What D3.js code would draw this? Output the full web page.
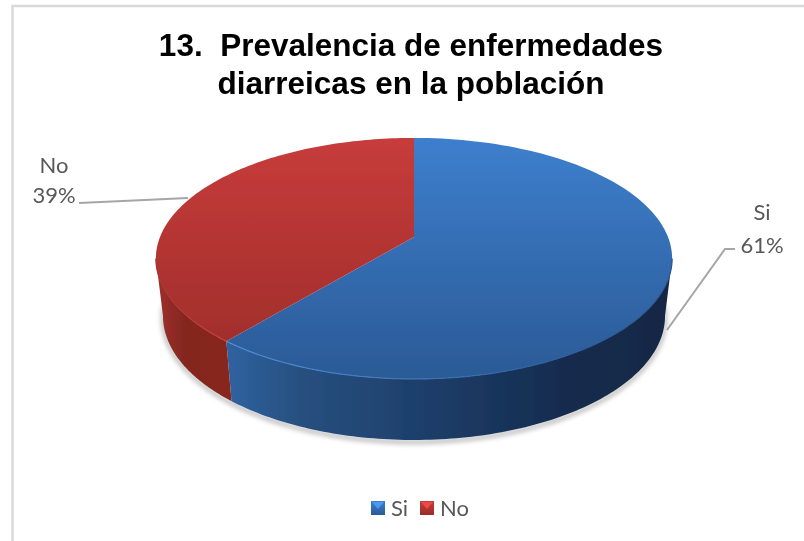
<!DOCTYPE html>
<html><head><meta charset="utf-8">
<script src="https://cdn.jsdelivr.net/npm/d3@7"></script>
<style>html,body{margin:0;padding:0;background:#fff}svg{display:block}</style>
</head><body><div id="c"></div>
<script>
const categories = ["Si", "No"];
const values = [61, 39];
const titleLines = ["13.  Prevalencia de enfermedades", "diarreicas en la población"];

const W = 804, H = 541;
const svg = d3.select("#c").append("svg").attr("width", W).attr("height", H);
const defs = svg.append("defs");

svg.append("path").attr("d",`M${W},6H12.5V${H}`).attr("fill","none").attr("stroke","#d9d9d9").attr("stroke-width",2.5);

const pie = d3.pie().sort(null).value(d => d)(values);
const k = 0.178;
const cx = 414;
const topDisc = {cy:237, R:254, B:116.7};
const botDisc = {cy:294, R:247, B:120};
const proj = (disc, a) => {
  const u = Math.sin(a), v = -Math.cos(a), den = 1 - k*v;
  return [cx + disc.R*u/den, disc.cy + disc.B*v/den];
};
const line = d3.line();
const sample = (disc, a0, a1) => d3.range(0, 121).map(i => proj(disc, a0 + (a1-a0)*i/120));

const topCols = d3.scaleOrdinal(categories, [["#3d7fcd","#2b5a96"],["#c73c3b","#9b2c29"]]);
const wallStops = {
  Si: [[228,"#2f62a0"],[300,"#26507f"],[420,"#1e3f6b"],[560,"#152c4e"],[670,"#132745"]],
  No: [[160,"#9a2f2b"],[185,"#84271f"],[232,"#87281f"]]
};
const rimStops = {
  Si: [[228,"#4f8bd3"],[420,"#3f74b8"],[560,"#2c5c99"],[672,"#285590"]],
  No: [[155,"#a83230"],[232,"#c8453f"]]
};
const xGrad = d3.scaleLinear().domain([150,680]).range([0,1]);
const hGrad = (id, stops) => {
  const w = defs.append("linearGradient").attr("id",id).attr("gradientUnits","userSpaceOnUse")
    .attr("x1",150).attr("x2",680).attr("y1",0).attr("y2",0);
  stops.forEach(s=>w.append("stop").attr("offset",xGrad(s[0])).attr("stop-color",s[1]));
};
categories.forEach(c => {
  const g = defs.append("linearGradient").attr("id","top"+c).attr("gradientUnits","userSpaceOnUse")
    .attr("x1",0).attr("x2",0).attr("y1",138).attr("y2",379);
  topCols(c).forEach((col,i)=>g.append("stop").attr("offset",i).attr("stop-color",col));
  hGrad("wall"+c, wallStops[c]);
  hGrad("rim"+c, rimStops[c]);
});
const sh = defs.append("filter").attr("id","soft").attr("x","-10%").attr("y","-10%").attr("width","120%").attr("height","120%");
sh.append("feGaussianBlur").attr("stdDeviation",2.5);
const bl = defs.append("filter").attr("id","b").attr("x","-5%").attr("y","-5%").attr("width","110%").attr("height","110%");
bl.append("feGaussianBlur").attr("stdDeviation",0.6);
const tb = defs.append("filter").attr("id","t").attr("x","-5%").attr("y","-10%").attr("width","110%").attr("height","120%");
tb.append("feGaussianBlur").attr("stdDeviation",0.4);

const aR = Math.acos(-k), aL = 2*Math.PI - aR;
const chart = svg.append("g");

chart.append("path")
  .attr("d", line(sample(botDisc, aR-0.1, aL+0.1)))
  .attr("transform","translate(0,2)")
  .attr("fill","none").attr("stroke","#777").attr("stroke-width",3).attr("opacity",0.7).attr("filter","url(#soft)");

const body = chart.append("g").attr("filter","url(#b)");
pie.forEach((p,i) => {
  const c = categories[i];
  const a0 = Math.max(p.startAngle, aR), a1 = Math.min(p.endAngle, aL);
  if (a1 > a0) {
    const pts = sample(topDisc,a0,a1).concat(sample(botDisc,a1,a0));
    body.append("path").attr("d", line(pts)+"Z").attr("fill",`url(#wall${c})`);
  }
});
pie.forEach((p,i) => {
  const c = categories[i];
  const pts = [[cx, topDisc.cy]].concat(sample(topDisc,p.startAngle,p.endAngle));
  body.append("path").attr("d", line(pts)+"Z").attr("fill",`url(#top${c})`);
});
pie.forEach((p,i) => {
  const c = categories[i];
  const a0 = Math.max(p.startAngle, aR), a1 = Math.min(p.endAngle, aL);
  if (a1 > a0) body.append("path").attr("d", line(sample(topDisc,a0,a1))).attr("fill","none")
    .attr("stroke",`url(#rim${c})`).attr("stroke-width",1.2);
});

const leaders = [[[735,249],[725,249],[667,330]], [[79,203],[188,198]]];
svg.append("g").attr("filter","url(#t)").selectAll(".lead").data(leaders).join("path").attr("class","lead")
  .attr("d", d=>line(d)).attr("fill","none").attr("stroke","#a6a6a6").attr("stroke-width",2);

const texts = svg.append("g").attr("filter","url(#t)");
const title = texts.append("text").attr("text-anchor","middle")
  .attr("font-family","'Liberation Sans',Arial,sans-serif").attr("font-weight","bold")
  .attr("font-size",31.5).attr("fill","#000").style("white-space","pre");
titleLines.forEach((t,i)=>title.append("tspan").attr("x",411).attr("y",56+i*38).text(t));

const fmt = d3.format(".0f");
const labelPos = [[762,[220,253]],[54,[173,203]]];
const font = "Lato,'Open Sans',sans-serif";
const fs = 22;
categories.forEach((c,i)=>{
  const [x,ys] = labelPos[i];
  [c, fmt(values[i])+"%"].forEach((t,j)=>texts.append("text").attr("x",x).attr("y",ys[j]).attr("text-anchor","middle")
    .attr("font-family",font).attr("font-size",fs).attr("fill","#595959").text(t));
});

const legX = [371, 420];
categories.forEach((c,i)=>{
  const g = svg.append("g").attr("transform",`translate(${legX[i]},501)`);
  const lg = defs.append("linearGradient").attr("id","leg"+c).attr("x1",0).attr("x2",0).attr("y1",0).attr("y2",1);
  const cols = topCols(c);
  lg.append("stop").attr("offset",0).attr("stop-color",cols[0]);
  lg.append("stop").attr("offset",1).attr("stop-color",cols[1]);
  g.append("rect").attr("width",14).attr("height",14).attr("fill",`url(#leg${c})`).attr("filter","url(#t)");
  g.append("path").attr("d","M1,1H13L7,8Z").attr("fill",d3.color(cols[0]).brighter(0.5)).attr("filter","url(#t)");
  g.append("text").attr("x",20).attr("y",15).attr("font-family",font).attr("font-size",fs).attr("fill","#595959").attr("filter","url(#t)").text(c);
});
</script></body></html>
